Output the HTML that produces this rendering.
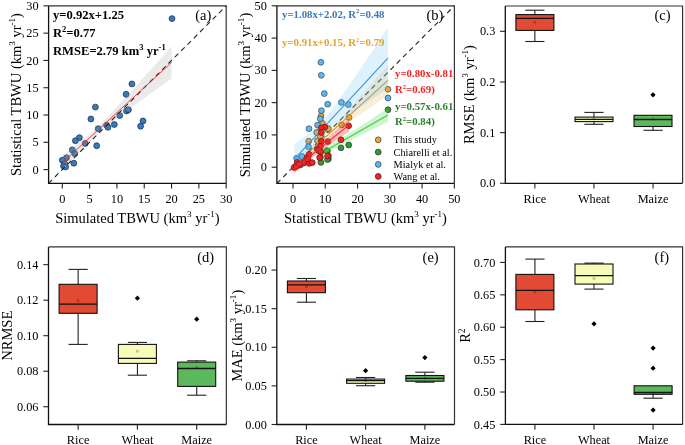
<!DOCTYPE html>
<html><head><meta charset="utf-8"><style>
html,body{margin:0;padding:0;background:#fff;overflow:hidden;}
svg{display:block;will-change:transform;}
text{font-family:"Liberation Serif",serif;}
</style></head><body>
<svg width="685" height="445" viewBox="0 0 685 445">
<rect width="685" height="445" fill="#fff"/><g fill="#000">
<circle cx="172.0" cy="18.6" r="2.95" fill="#3979bd" stroke="#1a2a40" stroke-width="0.7"/>
<circle cx="131.9" cy="83.9" r="2.95" fill="#3979bd" stroke="#1a2a40" stroke-width="0.7"/>
<circle cx="126.1" cy="94.3" r="2.95" fill="#3979bd" stroke="#1a2a40" stroke-width="0.7"/>
<circle cx="95.4" cy="107.1" r="2.95" fill="#3979bd" stroke="#1a2a40" stroke-width="0.7"/>
<circle cx="90.9" cy="119.0" r="2.95" fill="#3979bd" stroke="#1a2a40" stroke-width="0.7"/>
<circle cx="126.5" cy="111.0" r="2.95" fill="#3979bd" stroke="#1a2a40" stroke-width="0.7"/>
<circle cx="128.4" cy="109.8" r="2.95" fill="#3979bd" stroke="#1a2a40" stroke-width="0.7"/>
<circle cx="119.7" cy="115.5" r="2.95" fill="#3979bd" stroke="#1a2a40" stroke-width="0.7"/>
<circle cx="114.3" cy="124.5" r="2.95" fill="#3979bd" stroke="#1a2a40" stroke-width="0.7"/>
<circle cx="106.6" cy="125.2" r="2.95" fill="#3979bd" stroke="#1a2a40" stroke-width="0.7"/>
<circle cx="107.9" cy="127.3" r="2.95" fill="#3979bd" stroke="#1a2a40" stroke-width="0.7"/>
<circle cx="98.2" cy="128.7" r="2.95" fill="#3979bd" stroke="#1a2a40" stroke-width="0.7"/>
<circle cx="143.0" cy="120.9" r="2.95" fill="#3979bd" stroke="#1a2a40" stroke-width="0.7"/>
<circle cx="140.6" cy="126.2" r="2.95" fill="#3979bd" stroke="#1a2a40" stroke-width="0.7"/>
<circle cx="79.4" cy="137.7" r="2.95" fill="#3979bd" stroke="#1a2a40" stroke-width="0.7"/>
<circle cx="75.4" cy="140.7" r="2.95" fill="#3979bd" stroke="#1a2a40" stroke-width="0.7"/>
<circle cx="85.2" cy="143.5" r="2.95" fill="#3979bd" stroke="#1a2a40" stroke-width="0.7"/>
<circle cx="96.7" cy="145.7" r="2.95" fill="#3979bd" stroke="#1a2a40" stroke-width="0.7"/>
<circle cx="72.3" cy="149.9" r="2.95" fill="#3979bd" stroke="#1a2a40" stroke-width="0.7"/>
<circle cx="74.8" cy="153.6" r="2.95" fill="#3979bd" stroke="#1a2a40" stroke-width="0.7"/>
<circle cx="66.5" cy="157.8" r="2.95" fill="#3979bd" stroke="#1a2a40" stroke-width="0.7"/>
<circle cx="62.3" cy="160.2" r="2.95" fill="#3979bd" stroke="#1a2a40" stroke-width="0.7"/>
<circle cx="73.8" cy="163.2" r="2.95" fill="#3979bd" stroke="#1a2a40" stroke-width="0.7"/>
<circle cx="64.7" cy="163.8" r="2.95" fill="#3979bd" stroke="#1a2a40" stroke-width="0.7"/>
<circle cx="63.5" cy="166.0" r="2.95" fill="#3979bd" stroke="#1a2a40" stroke-width="0.7"/>
<circle cx="65.6" cy="166.9" r="2.95" fill="#3979bd" stroke="#1a2a40" stroke-width="0.7"/>
<path d="M62.8,154.8 L65.6,152.8 L68.3,150.7 L71.0,148.7 L73.7,146.7 L76.4,144.6 L79.2,142.5 L81.9,140.3 L84.6,138.1 L87.3,135.9 L90.0,133.6 L92.7,131.2 L95.5,128.7 L98.2,126.2 L100.9,123.6 L103.6,120.8 L106.3,118.1 L109.0,115.2 L111.8,112.4 L114.5,109.5 L117.2,106.6 L119.9,103.6 L122.6,100.6 L125.4,97.7 L128.1,94.7 L130.8,91.7 L133.5,88.7 L136.2,85.7 L138.9,82.7 L141.7,79.7 L144.4,76.6 L147.1,73.6 L149.8,70.6 L152.5,67.5 L155.3,64.5 L158.0,61.5 L160.7,58.4 L163.4,55.4 L166.1,52.4 L168.8,49.3 L171.6,46.3 L171.6,78.4 L168.8,80.4 L166.1,82.3 L163.4,84.3 L160.7,86.2 L158.0,88.2 L155.3,90.2 L152.5,92.1 L149.8,94.1 L147.1,96.1 L144.4,98.0 L141.7,100.0 L138.9,102.0 L136.2,104.0 L133.5,106.0 L130.8,108.0 L128.1,110.0 L125.4,112.0 L122.6,114.0 L119.9,116.0 L117.2,118.1 L114.5,120.1 L111.8,122.2 L109.0,124.4 L106.3,126.5 L103.6,128.8 L100.9,131.0 L98.2,133.4 L95.5,135.8 L92.7,138.4 L90.0,141.0 L87.3,143.7 L84.6,146.4 L81.9,149.2 L79.2,152.1 L76.4,155.0 L73.7,157.9 L71.0,160.9 L68.3,163.8 L65.6,166.8 L62.8,169.8Z" fill="#a0a0a0" fill-opacity="0.22"/>
<line x1="48.6" y1="183.3" x2="226.2" y2="5.85" stroke="#222" stroke-width="1.1" stroke-dasharray="5,3.92"/>
<line x1="62.8" y1="162.3" x2="171.6" y2="62.4" stroke="#ee2c34" stroke-width="0.9"/>
<path d="M48.6,5.85H226.2V183.3" fill="none" stroke="#333" stroke-width="1.2"/>
<path d="M48.6,5.85V183.3H226.2" fill="none" stroke="#111" stroke-width="1.3"/>
<line x1="43.4" y1="169.6" x2="48.6" y2="169.6" stroke="#222" stroke-width="1.1"/>
<text x="38.6" y="173.7" text-anchor="end" font-size="12.3">0</text>
<line x1="62.3" y1="183.3" x2="62.3" y2="188.5" stroke="#222" stroke-width="1.1"/>
<text x="62.3" y="202.5" text-anchor="middle" font-size="12.3">0</text>
<line x1="43.4" y1="142.31" x2="48.6" y2="142.31" stroke="#222" stroke-width="1.1"/>
<text x="38.6" y="146.41" text-anchor="end" font-size="12.3">5</text>
<line x1="89.615" y1="183.3" x2="89.615" y2="188.5" stroke="#222" stroke-width="1.1"/>
<text x="89.615" y="202.5" text-anchor="middle" font-size="12.3">5</text>
<line x1="43.4" y1="115.02" x2="48.6" y2="115.02" stroke="#222" stroke-width="1.1"/>
<text x="38.6" y="119.11999999999999" text-anchor="end" font-size="12.3">10</text>
<line x1="116.93" y1="183.3" x2="116.93" y2="188.5" stroke="#222" stroke-width="1.1"/>
<text x="116.93" y="202.5" text-anchor="middle" font-size="12.3">10</text>
<line x1="43.4" y1="87.72999999999999" x2="48.6" y2="87.72999999999999" stroke="#222" stroke-width="1.1"/>
<text x="38.6" y="91.82999999999998" text-anchor="end" font-size="12.3">15</text>
<line x1="144.245" y1="183.3" x2="144.245" y2="188.5" stroke="#222" stroke-width="1.1"/>
<text x="144.245" y="202.5" text-anchor="middle" font-size="12.3">15</text>
<line x1="43.4" y1="60.44" x2="48.6" y2="60.44" stroke="#222" stroke-width="1.1"/>
<text x="38.6" y="64.53999999999999" text-anchor="end" font-size="12.3">20</text>
<line x1="171.56" y1="183.3" x2="171.56" y2="188.5" stroke="#222" stroke-width="1.1"/>
<text x="171.56" y="202.5" text-anchor="middle" font-size="12.3">20</text>
<line x1="43.4" y1="33.14999999999998" x2="48.6" y2="33.14999999999998" stroke="#222" stroke-width="1.1"/>
<text x="38.6" y="37.24999999999998" text-anchor="end" font-size="12.3">25</text>
<line x1="198.875" y1="183.3" x2="198.875" y2="188.5" stroke="#222" stroke-width="1.1"/>
<text x="198.875" y="202.5" text-anchor="middle" font-size="12.3">25</text>
<line x1="43.4" y1="5.859999999999985" x2="48.6" y2="5.859999999999985" stroke="#222" stroke-width="1.1"/>
<text x="38.6" y="9.959999999999985" text-anchor="end" font-size="12.3">30</text>
<line x1="226.19" y1="183.3" x2="226.19" y2="188.5" stroke="#222" stroke-width="1.1"/>
<text x="226.19" y="202.5" text-anchor="middle" font-size="12.3">30</text>
<g font-weight="bold" font-size="12.6"><text x="53" y="19.2">y=0.92x+1.25</text><text x="53" y="36.8">R<tspan font-size="8.5" dy="-4.8">2</tspan><tspan dy="4.8">=0.77</tspan></text><text x="53" y="54.5">RMSE=2.79 km<tspan font-size="8.5" dy="-4.8">3</tspan><tspan dy="4.8"> yr</tspan><tspan font-size="8.5" dy="-4.8">-1</tspan></text></g>
<text x="195.2" y="19.8" font-size="14.5">(a)</text>
<text transform="translate(21.4,94.5) rotate(-90)" text-anchor="middle" font-size="14.5">Statistical TBWU (km<tspan font-size="9.1" dy="-6.2">3</tspan><tspan dy="6.2"> yr</tspan><tspan font-size="9.1" dy="-6.2">-1</tspan><tspan dy="6.2">)</tspan></text>
<text x="137.4" y="222.7" text-anchor="middle" font-size="14.5">Simulated TBWU (km<tspan font-size="9.1" dy="-6.2">3</tspan><tspan dy="6.2"> yr</tspan><tspan font-size="9.1" dy="-6.2">-1</tspan><tspan dy="6.2">)</tspan></text>
<line x1="276.9" y1="183.35" x2="454.4" y2="5.8" stroke="#222" stroke-width="1.1" stroke-dasharray="5,3.92"/>
<circle cx="388.0" cy="89.3" r="2.9" fill="#f2a62a" stroke="#444" stroke-width="0.75"/>
<circle cx="349.0" cy="117.4" r="2.9" fill="#f2a62a" stroke="#444" stroke-width="0.75"/>
<circle cx="341.6" cy="124.9" r="2.9" fill="#f2a62a" stroke="#444" stroke-width="0.75"/>
<circle cx="327.8" cy="129.6" r="2.9" fill="#f2a62a" stroke="#444" stroke-width="0.75"/>
<circle cx="321.0" cy="116.1" r="2.9" fill="#f2a62a" stroke="#444" stroke-width="0.75"/>
<circle cx="322.5" cy="123.3" r="2.9" fill="#f2a62a" stroke="#444" stroke-width="0.75"/>
<circle cx="328.4" cy="128.7" r="2.9" fill="#f2a62a" stroke="#444" stroke-width="0.75"/>
<circle cx="317.1" cy="132.6" r="2.9" fill="#f2a62a" stroke="#444" stroke-width="0.75"/>
<circle cx="308.7" cy="141.2" r="2.9" fill="#f2a62a" stroke="#444" stroke-width="0.75"/>
<circle cx="317.3" cy="140.7" r="2.9" fill="#f2a62a" stroke="#444" stroke-width="0.75"/>
<circle cx="320.3" cy="136.5" r="2.9" fill="#f2a62a" stroke="#444" stroke-width="0.75"/>
<circle cx="316.7" cy="132.6" r="2.9" fill="#f2a62a" stroke="#444" stroke-width="0.75"/>
<line x1="296.2" y1="163.8" x2="387.9" y2="80.4" stroke="#d08a30" stroke-width="1.1"/>
<path d="M296.2,157.4 L298.5,155.8 L300.8,154.2 L303.1,152.5 L305.4,150.9 L307.7,149.2 L310.0,147.5 L312.3,145.8 L314.6,144.0 L316.8,142.2 L319.1,140.3 L321.4,138.3 L323.7,136.1 L326.0,133.9 L328.3,131.6 L330.6,129.3 L332.9,126.9 L335.2,124.4 L337.5,121.9 L339.8,119.4 L342.1,116.9 L344.3,114.3 L346.6,111.8 L348.9,109.2 L351.2,106.7 L353.5,104.1 L355.8,101.5 L358.1,99.0 L360.4,96.4 L362.7,93.8 L365.0,91.2 L367.3,88.6 L369.5,86.0 L371.8,83.5 L374.1,80.9 L376.4,78.3 L378.7,75.7 L381.0,73.1 L383.3,70.5 L385.6,67.9 L387.9,65.3 L387.9,95.4 L385.6,97.0 L383.3,98.6 L381.0,100.1 L378.7,101.7 L376.4,103.3 L374.1,104.9 L371.8,106.5 L369.5,108.0 L367.3,109.6 L365.0,111.2 L362.7,112.8 L360.4,114.4 L358.1,116.0 L355.8,117.6 L353.5,119.2 L351.2,120.8 L348.9,122.4 L346.6,124.0 L344.3,125.6 L342.1,127.3 L339.8,128.9 L337.5,130.6 L335.2,132.2 L332.9,134.0 L330.6,135.7 L328.3,137.5 L326.0,139.4 L323.7,141.4 L321.4,143.4 L319.1,145.6 L316.8,147.8 L314.6,150.2 L312.3,152.6 L310.0,155.0 L307.7,157.5 L305.4,160.0 L303.1,162.5 L300.8,165.0 L298.5,167.6 L296.2,170.1Z" fill="#e0b040" fill-opacity="0.2"/>
<circle cx="388.0" cy="109.7" r="2.9" fill="#2ca02c" stroke="#333" stroke-width="0.75"/>
<circle cx="348.7" cy="145.0" r="2.9" fill="#2ca02c" stroke="#333" stroke-width="0.75"/>
<circle cx="341.0" cy="147.8" r="2.9" fill="#2ca02c" stroke="#333" stroke-width="0.75"/>
<circle cx="327.4" cy="150.8" r="2.9" fill="#2ca02c" stroke="#333" stroke-width="0.75"/>
<circle cx="328.4" cy="158.9" r="2.9" fill="#2ca02c" stroke="#333" stroke-width="0.75"/>
<circle cx="320.9" cy="162.4" r="2.9" fill="#2ca02c" stroke="#333" stroke-width="0.75"/>
<circle cx="326.9" cy="151.0" r="2.9" fill="#2ca02c" stroke="#333" stroke-width="0.75"/>
<circle cx="327.5" cy="159.6" r="2.9" fill="#2ca02c" stroke="#333" stroke-width="0.75"/>
<line x1="321.1" y1="153.2" x2="387.9" y2="115.1" stroke="#3cc83c" stroke-width="1.1"/>
<path d="M321.1,149.1 L322.7,148.2 L324.4,147.3 L326.1,146.5 L327.8,145.6 L329.4,144.7 L331.1,143.8 L332.8,142.9 L334.4,142.0 L336.1,141.0 L337.8,140.1 L339.4,139.1 L341.1,138.2 L342.8,137.2 L344.5,136.2 L346.1,135.2 L347.8,134.2 L349.5,133.2 L351.1,132.1 L352.8,131.1 L354.5,130.1 L356.1,129.0 L357.8,128.0 L359.5,126.9 L361.2,125.8 L362.8,124.7 L364.5,123.7 L366.2,122.6 L367.8,121.5 L369.5,120.4 L371.2,119.3 L372.8,118.2 L374.5,117.1 L376.2,116.0 L377.9,114.8 L379.5,113.7 L381.2,112.6 L382.9,111.5 L384.5,110.4 L386.2,109.3 L387.9,108.1 L387.9,122.0 L386.2,122.8 L384.5,123.6 L382.9,124.4 L381.2,125.1 L379.5,125.9 L377.9,126.7 L376.2,127.5 L374.5,128.3 L372.8,129.1 L371.2,129.9 L369.5,130.7 L367.8,131.5 L366.2,132.3 L364.5,133.2 L362.8,134.0 L361.2,134.8 L359.5,135.6 L357.8,136.5 L356.1,137.3 L354.5,138.2 L352.8,139.0 L351.1,139.9 L349.5,140.8 L347.8,141.7 L346.1,142.6 L344.5,143.5 L342.8,144.4 L341.1,145.3 L339.4,146.2 L337.8,147.2 L336.1,148.2 L334.4,149.1 L332.8,150.1 L331.1,151.1 L329.4,152.1 L327.8,153.1 L326.1,154.1 L324.4,155.2 L322.7,156.2 L321.1,157.3Z" fill="#4ee04e" fill-opacity="0.28"/>
<circle cx="320.9" cy="62.3" r="2.9" fill="#5bb8f0" stroke="#3a4a5a" stroke-width="0.75"/>
<circle cx="321.3" cy="75.3" r="2.9" fill="#5bb8f0" stroke="#3a4a5a" stroke-width="0.75"/>
<circle cx="324.3" cy="93.6" r="2.9" fill="#5bb8f0" stroke="#3a4a5a" stroke-width="0.75"/>
<circle cx="327.7" cy="104.2" r="2.9" fill="#5bb8f0" stroke="#3a4a5a" stroke-width="0.75"/>
<circle cx="341.4" cy="102.4" r="2.9" fill="#5bb8f0" stroke="#3a4a5a" stroke-width="0.75"/>
<circle cx="348.3" cy="104.5" r="2.9" fill="#5bb8f0" stroke="#3a4a5a" stroke-width="0.75"/>
<circle cx="388.0" cy="98.0" r="2.9" fill="#5bb8f0" stroke="#3a4a5a" stroke-width="0.75"/>
<circle cx="321.4" cy="110.7" r="2.9" fill="#5bb8f0" stroke="#3a4a5a" stroke-width="0.75"/>
<circle cx="320.3" cy="118.8" r="2.9" fill="#5bb8f0" stroke="#3a4a5a" stroke-width="0.75"/>
<circle cx="317.6" cy="125.1" r="2.9" fill="#5bb8f0" stroke="#3a4a5a" stroke-width="0.75"/>
<circle cx="309.0" cy="128.7" r="2.9" fill="#5bb8f0" stroke="#3a4a5a" stroke-width="0.75"/>
<circle cx="308.4" cy="146.7" r="2.9" fill="#5bb8f0" stroke="#3a4a5a" stroke-width="0.75"/>
<circle cx="296.6" cy="158.3" r="2.9" fill="#5bb8f0" stroke="#3a4a5a" stroke-width="0.75"/>
<circle cx="302.0" cy="156.5" r="2.9" fill="#5bb8f0" stroke="#3a4a5a" stroke-width="0.75"/>
<line x1="295.3" y1="158.2" x2="387.9" y2="58.2" stroke="#3a88d0" stroke-width="1.1"/>
<path d="M294.3,144.4 L296.6,142.8 L299.0,141.1 L301.3,139.4 L303.6,137.6 L306.0,135.8 L308.3,134.0 L310.7,132.0 L313.0,130.0 L315.3,127.9 L317.7,125.7 L320.0,123.4 L322.4,120.9 L324.7,118.3 L327.0,115.5 L329.4,112.7 L331.7,109.7 L334.1,106.6 L336.4,103.4 L338.7,100.2 L341.1,97.0 L343.4,93.6 L345.8,90.3 L348.1,86.9 L350.4,83.5 L352.8,80.1 L355.1,76.6 L357.5,73.2 L359.8,69.7 L362.1,66.2 L364.5,62.7 L366.8,59.2 L369.2,55.7 L371.5,52.2 L373.8,48.7 L376.2,45.2 L378.5,41.6 L380.9,38.1 L383.2,34.6 L385.5,31.0 L387.9,27.5 L387.9,88.9 L385.5,90.4 L383.2,91.9 L380.9,93.4 L378.5,95.0 L376.2,96.5 L373.8,98.0 L371.5,99.6 L369.2,101.1 L366.8,102.6 L364.5,104.2 L362.1,105.8 L359.8,107.3 L357.5,108.9 L355.1,110.5 L352.8,112.1 L350.4,113.7 L348.1,115.4 L345.8,117.1 L343.4,118.8 L341.1,120.5 L338.7,122.3 L336.4,124.1 L334.1,126.0 L331.7,128.0 L329.4,130.1 L327.0,132.3 L324.7,134.6 L322.4,137.0 L320.0,139.6 L317.7,142.3 L315.3,145.2 L313.0,148.1 L310.7,151.1 L308.3,154.3 L306.0,157.5 L303.6,160.7 L301.3,164.0 L299.0,167.4 L296.6,170.8 L294.3,174.2Z" fill="#5bc0f5" fill-opacity="0.2"/>
<circle cx="348.7" cy="125.8" r="2.9" fill="#f52020" stroke="#552222" stroke-width="0.75"/>
<circle cx="341.0" cy="139.7" r="2.9" fill="#f52020" stroke="#552222" stroke-width="0.75"/>
<circle cx="327.8" cy="141.6" r="2.9" fill="#f52020" stroke="#552222" stroke-width="0.75"/>
<circle cx="324.9" cy="127.0" r="2.9" fill="#f52020" stroke="#552222" stroke-width="0.75"/>
<circle cx="321.2" cy="127.8" r="2.9" fill="#f52020" stroke="#552222" stroke-width="0.75"/>
<circle cx="321.4" cy="132.6" r="2.9" fill="#f52020" stroke="#552222" stroke-width="0.75"/>
<circle cx="321.4" cy="141.2" r="2.9" fill="#f52020" stroke="#552222" stroke-width="0.75"/>
<circle cx="320.4" cy="146.2" r="2.9" fill="#f52020" stroke="#552222" stroke-width="0.75"/>
<circle cx="317.3" cy="149.2" r="2.9" fill="#f52020" stroke="#552222" stroke-width="0.75"/>
<circle cx="320.4" cy="151.8" r="2.9" fill="#f52020" stroke="#552222" stroke-width="0.75"/>
<circle cx="309.2" cy="154.3" r="2.9" fill="#f52020" stroke="#552222" stroke-width="0.75"/>
<circle cx="320.4" cy="157.3" r="2.9" fill="#f52020" stroke="#552222" stroke-width="0.75"/>
<circle cx="306.7" cy="158.3" r="2.9" fill="#f52020" stroke="#552222" stroke-width="0.75"/>
<circle cx="309.2" cy="163.4" r="2.9" fill="#f52020" stroke="#552222" stroke-width="0.75"/>
<circle cx="303.7" cy="162.4" r="2.9" fill="#f52020" stroke="#552222" stroke-width="0.75"/>
<circle cx="297.1" cy="162.4" r="2.9" fill="#f52020" stroke="#552222" stroke-width="0.75"/>
<circle cx="295.6" cy="166.4" r="2.9" fill="#f52020" stroke="#552222" stroke-width="0.75"/>
<circle cx="328.4" cy="155.8" r="2.9" fill="#f52020" stroke="#552222" stroke-width="0.75"/>
<circle cx="308.0" cy="159.0" r="2.9" fill="#f52020" stroke="#552222" stroke-width="0.75"/>
<circle cx="312.3" cy="162.6" r="2.9" fill="#f52020" stroke="#552222" stroke-width="0.75"/>
<circle cx="303.5" cy="163.2" r="2.9" fill="#f52020" stroke="#552222" stroke-width="0.75"/>
<circle cx="300.1" cy="165.0" r="2.9" fill="#f52020" stroke="#552222" stroke-width="0.75"/>
<circle cx="294.1" cy="167.5" r="2.9" fill="#f52020" stroke="#552222" stroke-width="0.75"/>
<circle cx="296.5" cy="166.3" r="2.9" fill="#f52020" stroke="#552222" stroke-width="0.75"/>
<circle cx="318.4" cy="150.5" r="2.9" fill="#f52020" stroke="#552222" stroke-width="0.75"/>
<circle cx="320.8" cy="151.7" r="2.9" fill="#f52020" stroke="#552222" stroke-width="0.75"/>
<circle cx="319.6" cy="157.7" r="2.9" fill="#f52020" stroke="#552222" stroke-width="0.75"/>
<circle cx="327.5" cy="155.9" r="2.9" fill="#f52020" stroke="#552222" stroke-width="0.75"/>
<circle cx="299.0" cy="164.0" r="2.9" fill="#f52020" stroke="#552222" stroke-width="0.75"/>
<line x1="294.0" y1="169.0" x2="349.1" y2="124.9" stroke="#f02828" stroke-width="1.1"/>
<path d="M294.0,164.7 L295.3,163.7 L296.7,162.7 L298.1,161.8 L299.5,160.8 L300.9,159.8 L302.2,158.8 L303.6,157.8 L305.0,156.8 L306.4,155.7 L307.8,154.7 L309.1,153.6 L310.5,152.6 L311.9,151.5 L313.3,150.4 L314.7,149.2 L316.0,148.1 L317.4,146.9 L318.8,145.8 L320.2,144.6 L321.6,143.4 L322.9,142.2 L324.3,141.0 L325.7,139.8 L327.1,138.5 L328.5,137.3 L329.8,136.1 L331.2,134.8 L332.6,133.6 L334.0,132.3 L335.4,131.0 L336.7,129.8 L338.1,128.5 L339.5,127.2 L340.9,125.9 L342.3,124.6 L343.6,123.3 L345.0,122.1 L346.4,120.8 L347.8,119.5 L349.1,118.2 L349.1,131.6 L347.8,132.5 L346.4,133.4 L345.0,134.3 L343.6,135.3 L342.3,136.2 L340.9,137.1 L339.5,138.0 L338.1,138.9 L336.7,139.9 L335.4,140.8 L334.0,141.8 L332.6,142.7 L331.2,143.7 L329.8,144.6 L328.5,145.6 L327.1,146.5 L325.7,147.5 L324.3,148.5 L322.9,149.5 L321.6,150.5 L320.2,151.5 L318.8,152.6 L317.4,153.6 L316.0,154.7 L314.7,155.7 L313.3,156.8 L311.9,157.9 L310.5,159.0 L309.1,160.2 L307.8,161.3 L306.4,162.5 L305.0,163.6 L303.6,164.8 L302.2,166.0 L300.9,167.2 L299.5,168.5 L298.1,169.7 L296.7,170.9 L295.3,172.2 L294.0,173.4Z" fill="#ee2a2a" fill-opacity="0.32"/>
<path d="M276.9,5.8H454.4V183.35" fill="none" stroke="#333" stroke-width="1.2"/>
<path d="M276.9,5.8V183.35H454.4" fill="none" stroke="#111" stroke-width="1.3"/>
<line x1="271.7" y1="167.2" x2="276.9" y2="167.2" stroke="#222" stroke-width="1.1"/>
<text x="266.9" y="171.29999999999998" text-anchor="end" font-size="12.3">0</text>
<line x1="293.0" y1="183.35" x2="293.0" y2="188.54999999999998" stroke="#222" stroke-width="1.1"/>
<text x="293.0" y="202.54999999999998" text-anchor="middle" font-size="12.3">0</text>
<line x1="271.7" y1="134.92" x2="276.9" y2="134.92" stroke="#222" stroke-width="1.1"/>
<text x="266.9" y="139.01999999999998" text-anchor="end" font-size="12.3">10</text>
<line x1="325.27" y1="183.35" x2="325.27" y2="188.54999999999998" stroke="#222" stroke-width="1.1"/>
<text x="325.27" y="202.54999999999998" text-anchor="middle" font-size="12.3">10</text>
<line x1="271.7" y1="102.63999999999999" x2="276.9" y2="102.63999999999999" stroke="#222" stroke-width="1.1"/>
<text x="266.9" y="106.73999999999998" text-anchor="end" font-size="12.3">20</text>
<line x1="357.53999999999996" y1="183.35" x2="357.53999999999996" y2="188.54999999999998" stroke="#222" stroke-width="1.1"/>
<text x="357.53999999999996" y="202.54999999999998" text-anchor="middle" font-size="12.3">20</text>
<line x1="271.7" y1="70.35999999999999" x2="276.9" y2="70.35999999999999" stroke="#222" stroke-width="1.1"/>
<text x="266.9" y="74.45999999999998" text-anchor="end" font-size="12.3">30</text>
<line x1="389.81" y1="183.35" x2="389.81" y2="188.54999999999998" stroke="#222" stroke-width="1.1"/>
<text x="389.81" y="202.54999999999998" text-anchor="middle" font-size="12.3">30</text>
<line x1="271.7" y1="38.079999999999984" x2="276.9" y2="38.079999999999984" stroke="#222" stroke-width="1.1"/>
<text x="266.9" y="42.179999999999986" text-anchor="end" font-size="12.3">40</text>
<line x1="422.08" y1="183.35" x2="422.08" y2="188.54999999999998" stroke="#222" stroke-width="1.1"/>
<text x="422.08" y="202.54999999999998" text-anchor="middle" font-size="12.3">40</text>
<line x1="271.7" y1="5.799999999999983" x2="276.9" y2="5.799999999999983" stroke="#222" stroke-width="1.1"/>
<text x="266.9" y="9.899999999999983" text-anchor="end" font-size="12.3">50</text>
<line x1="454.35" y1="183.35" x2="454.35" y2="188.54999999999998" stroke="#222" stroke-width="1.1"/>
<text x="454.35" y="202.54999999999998" text-anchor="middle" font-size="12.3">50</text>
<g font-weight="bold" font-size="10.8"><text x="282" y="17.6" fill="#3a78b8">y=1.08x+2.02, R<tspan font-size="6.6" dy="-4.2">2</tspan><tspan dy="4.2">=0.48</tspan></text><text x="282" y="46.3" fill="#e8a030">y=0.91x+0.15, R<tspan font-size="6.6" dy="-4.2">2</tspan><tspan dy="4.2">=0.79</tspan></text><text x="395" y="77.2" fill="#f52020">y=0.80x-0.81</text><text x="395" y="92.7" fill="#f52020">R<tspan font-size="6.6" dy="-4.2">2</tspan><tspan dy="4.2">=0.69)</tspan></text><text x="395" y="110.2" fill="#2e7d2e">y=0.57x-0.61</text><text x="395" y="124.9" fill="#2e7d2e">R<tspan font-size="6.6" dy="-4.2">2</tspan><tspan dy="4.2">=0.84)</tspan></text></g>
<text x="426.4" y="19.6" font-size="14.5">(b)</text>
<circle cx="378.2" cy="139.8" r="2.9" fill="#f2a62a" stroke="#444" stroke-width="0.8"/>
<text x="393.6" y="143.20000000000002" font-size="10.3">This study</text>
<circle cx="378.2" cy="152.1" r="2.9" fill="#2ca02c" stroke="#333" stroke-width="0.8"/>
<text x="393.6" y="155.5" font-size="10.3">Chiarelli et al.</text>
<circle cx="378.2" cy="164.4" r="2.9" fill="#5bb8f0" stroke="#3a4a5a" stroke-width="0.8"/>
<text x="393.6" y="167.8" font-size="10.3">Mialyk et al.</text>
<circle cx="378.2" cy="176.4" r="2.9" fill="#f52020" stroke="#552222" stroke-width="0.8"/>
<text x="393.6" y="179.8" font-size="10.3">Wang et al.</text>
<text transform="translate(249.8,95) rotate(-90)" text-anchor="middle" font-size="14.5">Simulated TBWU (km<tspan font-size="9.1" dy="-6.2">3</tspan><tspan dy="6.2"> yr</tspan><tspan font-size="9.1" dy="-6.2">-1</tspan><tspan dy="6.2">)</tspan></text>
<text x="365.5" y="222.7" text-anchor="middle" font-size="14.5">Statistical TBWU (km<tspan font-size="9.1" dy="-6.2">3</tspan><tspan dy="6.2"> yr</tspan><tspan font-size="9.1" dy="-6.2">-1</tspan><tspan dy="6.2">)</tspan></text>
<line x1="534.85" y1="10.2" x2="534.85" y2="14.6" stroke="#222" stroke-width="1.1"/>
<line x1="525.25" y1="10.2" x2="544.45" y2="10.2" stroke="#222" stroke-width="1.1"/>
<line x1="534.85" y1="30.4" x2="534.85" y2="41.5" stroke="#222" stroke-width="1.1"/>
<line x1="525.25" y1="41.5" x2="544.45" y2="41.5" stroke="#222" stroke-width="1.1"/>
<rect x="515.9" y="14.6" width="38.0" height="15.8" fill="#e34a33" stroke="#111" stroke-width="1.1"/>
<line x1="515.9" y1="18.4" x2="553.9" y2="18.4" stroke="#111" stroke-width="1.3"/>
<circle cx="534.85" cy="22.3" r="1.0" fill="none" stroke="#000" stroke-opacity="0.4" stroke-width="0.7"/>
<line x1="593.95" y1="112.4" x2="593.95" y2="117.1" stroke="#222" stroke-width="1.1"/>
<line x1="584.35" y1="112.4" x2="603.5500000000001" y2="112.4" stroke="#222" stroke-width="1.1"/>
<line x1="593.95" y1="121.6" x2="593.95" y2="124.3" stroke="#222" stroke-width="1.1"/>
<line x1="584.35" y1="124.3" x2="603.5500000000001" y2="124.3" stroke="#222" stroke-width="1.1"/>
<rect x="575.0" y="117.1" width="38.0" height="4.5" fill="#f7fcb9" stroke="#111" stroke-width="1.1"/>
<line x1="575.0" y1="119.3" x2="613.0" y2="119.3" stroke="#111" stroke-width="1.3"/>
<circle cx="593.95" cy="119.0" r="1.0" fill="none" stroke="#000" stroke-opacity="0.4" stroke-width="0.7"/>
<line x1="653.05" y1="126.5" x2="653.05" y2="130.3" stroke="#222" stroke-width="1.1"/>
<line x1="643.4499999999999" y1="130.3" x2="662.65" y2="130.3" stroke="#222" stroke-width="1.1"/>
<rect x="634.0" y="115.3" width="38.0" height="11.2" fill="#5cb85c" stroke="#111" stroke-width="1.1"/>
<line x1="634.0" y1="119.5" x2="672.0" y2="119.5" stroke="#111" stroke-width="1.3"/>
<circle cx="653.05" cy="118.7" r="1.0" fill="none" stroke="#000" stroke-opacity="0.4" stroke-width="0.7"/>
<path d="M653.0,92.2L655.6,94.8L653.0,97.4L650.4,94.8Z" fill="#000"/>
<path d="M505.3,6.0H682.6V183.3" fill="none" stroke="#333" stroke-width="1.2"/>
<path d="M505.3,6.0V183.3H682.6" fill="none" stroke="#111" stroke-width="1.3"/>
<line x1="500.1" y1="183.3" x2="505.3" y2="183.3" stroke="#222" stroke-width="1.1"/>
<text x="495.3" y="187.4" text-anchor="end" font-size="12.3">0.0</text>
<line x1="500.1" y1="132.64285714285714" x2="505.3" y2="132.64285714285714" stroke="#222" stroke-width="1.1"/>
<text x="495.3" y="136.74285714285713" text-anchor="end" font-size="12.3">0.1</text>
<line x1="500.1" y1="81.98571428571428" x2="505.3" y2="81.98571428571428" stroke="#222" stroke-width="1.1"/>
<text x="495.3" y="86.08571428571427" text-anchor="end" font-size="12.3">0.2</text>
<line x1="500.1" y1="31.328571428571422" x2="505.3" y2="31.328571428571422" stroke="#222" stroke-width="1.1"/>
<text x="495.3" y="35.42857142857142" text-anchor="end" font-size="12.3">0.3</text>
<line x1="534.85" y1="183.3" x2="534.85" y2="188.5" stroke="#222" stroke-width="1.1"/>
<text x="534.85" y="202.70000000000002" text-anchor="middle" font-size="12.3">Rice</text>
<line x1="593.95" y1="183.3" x2="593.95" y2="188.5" stroke="#222" stroke-width="1.1"/>
<text x="593.95" y="202.70000000000002" text-anchor="middle" font-size="12.3">Wheat</text>
<line x1="653.05" y1="183.3" x2="653.05" y2="188.5" stroke="#222" stroke-width="1.1"/>
<text x="653.05" y="202.70000000000002" text-anchor="middle" font-size="12.3">Maize</text>
<text x="654.4" y="20.0" font-size="14.5">(c)</text>
<text transform="translate(473.6,94.65) rotate(-90)" text-anchor="middle" font-size="14.5">RMSE (km<tspan font-size="8.9" dy="-6.1">3</tspan><tspan dy="6.1"> yr</tspan><tspan font-size="8.9" dy="-6.1">-1</tspan><tspan dy="6.1">)</tspan></text>
<line x1="78.14166666666667" y1="269.4" x2="78.14166666666667" y2="284.3" stroke="#222" stroke-width="1.1"/>
<line x1="68.54166666666667" y1="269.4" x2="87.74166666666666" y2="269.4" stroke="#222" stroke-width="1.1"/>
<line x1="78.14166666666667" y1="313.3" x2="78.14166666666667" y2="344.4" stroke="#222" stroke-width="1.1"/>
<line x1="68.54166666666667" y1="344.4" x2="87.74166666666666" y2="344.4" stroke="#222" stroke-width="1.1"/>
<rect x="59.1" y="284.3" width="38.0" height="29.0" fill="#e34a33" stroke="#111" stroke-width="1.1"/>
<line x1="59.1" y1="304.2" x2="97.1" y2="304.2" stroke="#111" stroke-width="1.3"/>
<circle cx="78.14166666666667" cy="300.7" r="1.0" fill="none" stroke="#000" stroke-opacity="0.4" stroke-width="0.7"/>
<line x1="137.425" y1="342.4" x2="137.425" y2="344.4" stroke="#222" stroke-width="1.1"/>
<line x1="127.82500000000002" y1="342.4" x2="147.025" y2="342.4" stroke="#222" stroke-width="1.1"/>
<line x1="137.425" y1="363.4" x2="137.425" y2="375.2" stroke="#222" stroke-width="1.1"/>
<line x1="127.82500000000002" y1="375.2" x2="147.025" y2="375.2" stroke="#222" stroke-width="1.1"/>
<rect x="118.4" y="344.4" width="38.0" height="19.0" fill="#f7fcb9" stroke="#111" stroke-width="1.1"/>
<line x1="118.4" y1="358.3" x2="156.4" y2="358.3" stroke="#111" stroke-width="1.3"/>
<circle cx="137.425" cy="351.3" r="1.0" fill="none" stroke="#000" stroke-opacity="0.4" stroke-width="0.7"/>
<line x1="196.70833333333334" y1="360.8" x2="196.70833333333334" y2="362.1" stroke="#222" stroke-width="1.1"/>
<line x1="187.10833333333335" y1="360.8" x2="206.30833333333334" y2="360.8" stroke="#222" stroke-width="1.1"/>
<line x1="196.70833333333334" y1="386.4" x2="196.70833333333334" y2="395.2" stroke="#222" stroke-width="1.1"/>
<line x1="187.10833333333335" y1="395.2" x2="206.30833333333334" y2="395.2" stroke="#222" stroke-width="1.1"/>
<rect x="177.7" y="362.1" width="38.0" height="24.3" fill="#5cb85c" stroke="#111" stroke-width="1.1"/>
<line x1="177.7" y1="368.5" x2="215.7" y2="368.5" stroke="#111" stroke-width="1.3"/>
<circle cx="196.70833333333334" cy="367.5" r="1.0" fill="none" stroke="#000" stroke-opacity="0.4" stroke-width="0.7"/>
<path d="M137.4,295.6L140.0,298.2L137.4,300.8L134.8,298.2Z" fill="#000"/>
<path d="M196.7,316.6L199.3,319.2L196.7,321.8L194.1,319.2Z" fill="#000"/>
<path d="M48.5,246.9H226.35V424.5" fill="none" stroke="#333" stroke-width="1.2"/>
<path d="M48.5,246.9V424.5H226.35" fill="none" stroke="#111" stroke-width="1.3"/>
<line x1="43.3" y1="406.74" x2="48.5" y2="406.74" stroke="#222" stroke-width="1.1"/>
<text x="38.5" y="410.84000000000003" text-anchor="end" font-size="12.3">0.06</text>
<line x1="43.3" y1="371.22" x2="48.5" y2="371.22" stroke="#222" stroke-width="1.1"/>
<text x="38.5" y="375.32000000000005" text-anchor="end" font-size="12.3">0.08</text>
<line x1="43.3" y1="335.7" x2="48.5" y2="335.7" stroke="#222" stroke-width="1.1"/>
<text x="38.5" y="339.8" text-anchor="end" font-size="12.3">0.10</text>
<line x1="43.3" y1="300.18" x2="48.5" y2="300.18" stroke="#222" stroke-width="1.1"/>
<text x="38.5" y="304.28000000000003" text-anchor="end" font-size="12.3">0.12</text>
<line x1="43.3" y1="264.65999999999997" x2="48.5" y2="264.65999999999997" stroke="#222" stroke-width="1.1"/>
<text x="38.5" y="268.76" text-anchor="end" font-size="12.3">0.14</text>
<line x1="78.14166666666667" y1="424.5" x2="78.14166666666667" y2="429.7" stroke="#222" stroke-width="1.1"/>
<text x="78.14166666666667" y="443.9" text-anchor="middle" font-size="12.3">Rice</text>
<line x1="137.425" y1="424.5" x2="137.425" y2="429.7" stroke="#222" stroke-width="1.1"/>
<text x="137.425" y="443.9" text-anchor="middle" font-size="12.3">Wheat</text>
<line x1="196.70833333333334" y1="424.5" x2="196.70833333333334" y2="429.7" stroke="#222" stroke-width="1.1"/>
<text x="196.70833333333334" y="443.9" text-anchor="middle" font-size="12.3">Maize</text>
<text x="197.2" y="261.9" font-size="14.5">(d)</text>
<text transform="translate(11.8,335.7) rotate(-90)" text-anchor="middle" font-size="14.5">NRMSE</text>
<line x1="306.4166666666667" y1="278.5" x2="306.4166666666667" y2="281" stroke="#222" stroke-width="1.1"/>
<line x1="296.81666666666666" y1="278.5" x2="316.0166666666667" y2="278.5" stroke="#222" stroke-width="1.1"/>
<line x1="306.4166666666667" y1="292.7" x2="306.4166666666667" y2="302.2" stroke="#222" stroke-width="1.1"/>
<line x1="296.81666666666666" y1="302.2" x2="316.0166666666667" y2="302.2" stroke="#222" stroke-width="1.1"/>
<rect x="287.4" y="281" width="38.0" height="11.7" fill="#e34a33" stroke="#111" stroke-width="1.1"/>
<line x1="287.4" y1="284.9" x2="325.4" y2="284.9" stroke="#111" stroke-width="1.3"/>
<circle cx="306.4166666666667" cy="287" r="1.0" fill="none" stroke="#000" stroke-opacity="0.4" stroke-width="0.7"/>
<line x1="365.65" y1="377.5" x2="365.65" y2="379.1" stroke="#222" stroke-width="1.1"/>
<line x1="356.04999999999995" y1="377.5" x2="375.25" y2="377.5" stroke="#222" stroke-width="1.1"/>
<line x1="365.65" y1="383.3" x2="365.65" y2="385.7" stroke="#222" stroke-width="1.1"/>
<line x1="356.04999999999995" y1="385.7" x2="375.25" y2="385.7" stroke="#222" stroke-width="1.1"/>
<rect x="346.6" y="379.1" width="38.0" height="4.2" fill="#f7fcb9" stroke="#111" stroke-width="1.1"/>
<line x1="346.6" y1="380.7" x2="384.6" y2="380.7" stroke="#111" stroke-width="1.3"/>
<circle cx="365.65" cy="380.5" r="1.0" fill="none" stroke="#000" stroke-opacity="0.4" stroke-width="0.7"/>
<line x1="424.8833333333333" y1="372.2" x2="424.8833333333333" y2="375.5" stroke="#222" stroke-width="1.1"/>
<line x1="415.2833333333333" y1="372.2" x2="434.48333333333335" y2="372.2" stroke="#222" stroke-width="1.1"/>
<line x1="424.8833333333333" y1="381.2" x2="424.8833333333333" y2="382.2" stroke="#222" stroke-width="1.1"/>
<line x1="415.2833333333333" y1="382.2" x2="434.48333333333335" y2="382.2" stroke="#222" stroke-width="1.1"/>
<rect x="405.9" y="375.5" width="38.0" height="5.7" fill="#5cb85c" stroke="#111" stroke-width="1.1"/>
<line x1="405.9" y1="378.4" x2="443.9" y2="378.4" stroke="#111" stroke-width="1.3"/>
<circle cx="424.8833333333333" cy="378" r="1.0" fill="none" stroke="#000" stroke-opacity="0.4" stroke-width="0.7"/>
<path d="M365.6,368.1L368.2,370.7L365.6,373.3L363.0,370.7Z" fill="#000"/>
<path d="M424.9,355.0L427.5,357.6L424.9,360.2L422.3,357.6Z" fill="#000"/>
<path d="M276.8,246.9H454.5V424.5" fill="none" stroke="#333" stroke-width="1.2"/>
<path d="M276.8,246.9V424.5H454.5" fill="none" stroke="#111" stroke-width="1.3"/>
<line x1="271.6" y1="424.5" x2="276.8" y2="424.5" stroke="#222" stroke-width="1.1"/>
<text x="266.8" y="428.6" text-anchor="end" font-size="12.3">0.00</text>
<line x1="271.6" y1="385.89130434782606" x2="276.8" y2="385.89130434782606" stroke="#222" stroke-width="1.1"/>
<text x="266.8" y="389.9913043478261" text-anchor="end" font-size="12.3">0.05</text>
<line x1="271.6" y1="347.2826086956522" x2="276.8" y2="347.2826086956522" stroke="#222" stroke-width="1.1"/>
<text x="266.8" y="351.3826086956522" text-anchor="end" font-size="12.3">0.10</text>
<line x1="271.6" y1="308.67391304347825" x2="276.8" y2="308.67391304347825" stroke="#222" stroke-width="1.1"/>
<text x="266.8" y="312.7739130434783" text-anchor="end" font-size="12.3">0.15</text>
<line x1="271.6" y1="270.0652173913044" x2="276.8" y2="270.0652173913044" stroke="#222" stroke-width="1.1"/>
<text x="266.8" y="274.1652173913044" text-anchor="end" font-size="12.3">0.20</text>
<line x1="306.4166666666667" y1="424.5" x2="306.4166666666667" y2="429.7" stroke="#222" stroke-width="1.1"/>
<text x="306.4166666666667" y="443.9" text-anchor="middle" font-size="12.3">Rice</text>
<line x1="365.65" y1="424.5" x2="365.65" y2="429.7" stroke="#222" stroke-width="1.1"/>
<text x="365.65" y="443.9" text-anchor="middle" font-size="12.3">Wheat</text>
<line x1="424.8833333333333" y1="424.5" x2="424.8833333333333" y2="429.7" stroke="#222" stroke-width="1.1"/>
<text x="424.8833333333333" y="443.9" text-anchor="middle" font-size="12.3">Maize</text>
<text x="422.6" y="261.9" font-size="14.5">(e)</text>
<text transform="translate(242.2,335.7) rotate(-90)" text-anchor="middle" font-size="14.5">MAE (km<tspan font-size="9.1" dy="-6.2">3</tspan><tspan dy="6.2"> yr</tspan><tspan font-size="9.1" dy="-6.2">-1</tspan><tspan dy="6.2">)</tspan></text>
<line x1="534.9333333333333" y1="259.1" x2="534.9333333333333" y2="274.4" stroke="#222" stroke-width="1.1"/>
<line x1="525.3333333333333" y1="259.1" x2="544.5333333333333" y2="259.1" stroke="#222" stroke-width="1.1"/>
<line x1="534.9333333333333" y1="309.8" x2="534.9333333333333" y2="321.5" stroke="#222" stroke-width="1.1"/>
<line x1="525.3333333333333" y1="321.5" x2="544.5333333333333" y2="321.5" stroke="#222" stroke-width="1.1"/>
<rect x="515.9" y="274.4" width="38.0" height="35.4" fill="#e34a33" stroke="#111" stroke-width="1.1"/>
<line x1="515.9" y1="290.4" x2="553.9" y2="290.4" stroke="#111" stroke-width="1.3"/>
<circle cx="534.9333333333333" cy="292.3" r="1.0" fill="none" stroke="#000" stroke-opacity="0.4" stroke-width="0.7"/>
<line x1="594.0" y1="263.1" x2="594.0" y2="264" stroke="#222" stroke-width="1.1"/>
<line x1="584.4" y1="263.1" x2="603.6" y2="263.1" stroke="#222" stroke-width="1.1"/>
<line x1="594.0" y1="284.1" x2="594.0" y2="289.1" stroke="#222" stroke-width="1.1"/>
<line x1="584.4" y1="289.1" x2="603.6" y2="289.1" stroke="#222" stroke-width="1.1"/>
<rect x="575.0" y="264" width="38.0" height="20.1" fill="#f7fcb9" stroke="#111" stroke-width="1.1"/>
<line x1="575.0" y1="275.7" x2="613.0" y2="275.7" stroke="#111" stroke-width="1.3"/>
<circle cx="594.0" cy="278.5" r="1.0" fill="none" stroke="#000" stroke-opacity="0.4" stroke-width="0.7"/>
<line x1="653.0666666666667" y1="394.3" x2="653.0666666666667" y2="398.2" stroke="#222" stroke-width="1.1"/>
<line x1="643.4666666666667" y1="398.2" x2="662.6666666666667" y2="398.2" stroke="#222" stroke-width="1.1"/>
<rect x="634.1" y="385.8" width="38.0" height="8.5" fill="#5cb85c" stroke="#111" stroke-width="1.1"/>
<line x1="634.1" y1="392.5" x2="672.1" y2="392.5" stroke="#111" stroke-width="1.3"/>
<circle cx="653.0666666666667" cy="393" r="1.0" fill="none" stroke="#000" stroke-opacity="0.4" stroke-width="0.7"/>
<path d="M594.0,321.2L596.6,323.8L594.0,326.4L591.4,323.8Z" fill="#000"/>
<path d="M653.1,345.5L655.7,348.1L653.1,350.7L650.5,348.1Z" fill="#000"/>
<path d="M653.1,365.6L655.7,368.2L653.1,370.8L650.5,368.2Z" fill="#000"/>
<path d="M653.1,407.5L655.7,410.1L653.1,412.7L650.5,410.1Z" fill="#000"/>
<path d="M505.4,246.9H682.6V424.4" fill="none" stroke="#333" stroke-width="1.2"/>
<path d="M505.4,246.9V424.4H682.6" fill="none" stroke="#111" stroke-width="1.3"/>
<line x1="500.2" y1="424.4" x2="505.4" y2="424.4" stroke="#222" stroke-width="1.1"/>
<text x="495.4" y="428.5" text-anchor="end" font-size="12.3">0.45</text>
<line x1="500.2" y1="392.0094890510949" x2="505.4" y2="392.0094890510949" stroke="#222" stroke-width="1.1"/>
<text x="495.4" y="396.1094890510949" text-anchor="end" font-size="12.3">0.50</text>
<line x1="500.2" y1="359.61897810218977" x2="505.4" y2="359.61897810218977" stroke="#222" stroke-width="1.1"/>
<text x="495.4" y="363.7189781021898" text-anchor="end" font-size="12.3">0.55</text>
<line x1="500.2" y1="327.22846715328467" x2="505.4" y2="327.22846715328467" stroke="#222" stroke-width="1.1"/>
<text x="495.4" y="331.3284671532847" text-anchor="end" font-size="12.3">0.60</text>
<line x1="500.2" y1="294.83795620437957" x2="505.4" y2="294.83795620437957" stroke="#222" stroke-width="1.1"/>
<text x="495.4" y="298.9379562043796" text-anchor="end" font-size="12.3">0.65</text>
<line x1="500.2" y1="262.44744525547446" x2="505.4" y2="262.44744525547446" stroke="#222" stroke-width="1.1"/>
<text x="495.4" y="266.5474452554745" text-anchor="end" font-size="12.3">0.70</text>
<line x1="534.9333333333333" y1="424.4" x2="534.9333333333333" y2="429.59999999999997" stroke="#222" stroke-width="1.1"/>
<text x="534.9333333333333" y="443.79999999999995" text-anchor="middle" font-size="12.3">Rice</text>
<line x1="594.0" y1="424.4" x2="594.0" y2="429.59999999999997" stroke="#222" stroke-width="1.1"/>
<text x="594.0" y="443.79999999999995" text-anchor="middle" font-size="12.3">Wheat</text>
<line x1="653.0666666666667" y1="424.4" x2="653.0666666666667" y2="429.59999999999997" stroke="#222" stroke-width="1.1"/>
<text x="653.0666666666667" y="443.79999999999995" text-anchor="middle" font-size="12.3">Maize</text>
<text x="654.6" y="261.9" font-size="14.5">(f)</text>
<text transform="translate(470.2,335.65) rotate(-90)" text-anchor="middle" font-size="14.5">R<tspan font-size="9.5" dy="-5.5">2</tspan></text>
</g>
</svg></body></html>
